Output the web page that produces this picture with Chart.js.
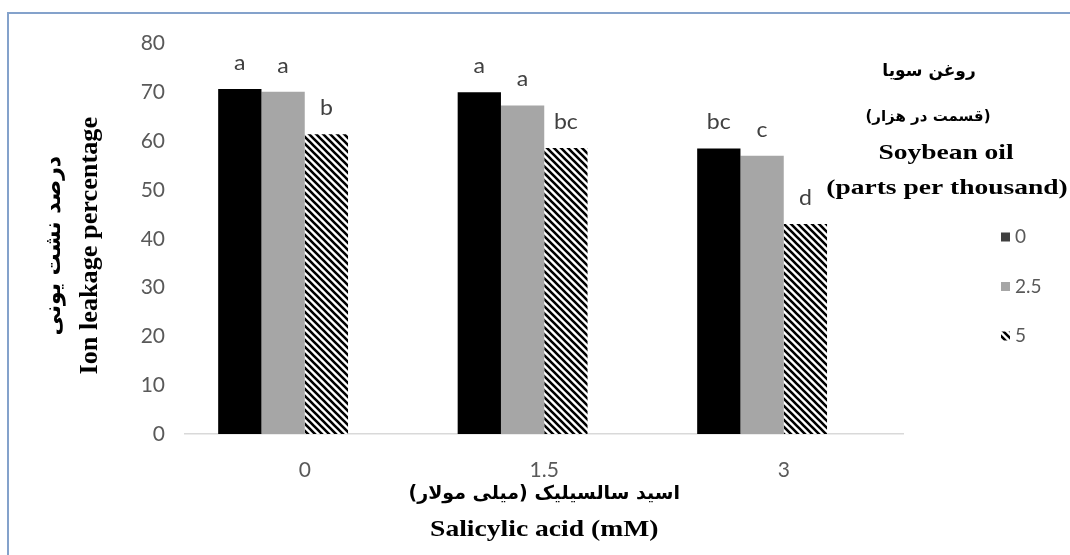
<!DOCTYPE html>
<html><head><meta charset="utf-8">
<script src="https://cdn.jsdelivr.net/npm/chart.js@4.4.1/dist/chart.umd.min.js"></script>
<style>
html,body{margin:0;padding:0;background:#fff;overflow:hidden;}
#wrap{position:absolute;left:0;top:0;width:1070px;height:555px;}
#frame{position:absolute;left:7px;top:12px;width:1080px;height:560px;border-left:2px solid #84a2cb;border-top:2px solid #84a2cb;pointer-events:none;}
canvas{position:absolute;left:0;top:0;}
</style></head><body>
<div id="wrap"><canvas id="c" width="1070" height="555"></canvas><div id="frame"></div></div>
<script>
// ---- data ----
const categories = ['0', '1.5', '3'];
const seriesNames = ['0', '2.5', '5'];
const oil0 = [70.7, 70.0, 58.5];
const oil25 = [70.1, 67.3, 57.0];
const oil5 = [61.4, 58.6, 43.0];
const emptySeries = [null, null, null];
const letters0 = ['a', 'a', 'bc'];
const letters25 = ['a', 'a', 'c'];
const letters5 = ['b', 'bc', 'd'];
const yMin = 0, yMax = 80, yStep = 10;
const legendTitleLines = ['روغن سویا', '(قسمت در هزار)', 'Soybean oil', '(parts per thousand)'];
const xTitleLines = ['اسید سالسیلیک (میلی مولار)', 'Salicylic acid (mM)'];
const yTitleLines = ['درصد نشت یونی', 'Ion leakage percentage'];

function makeHatch() {
  const s = 7;
  const c = document.createElement('canvas');
  c.width = s; c.height = s;
  const x = c.getContext('2d');
  x.fillStyle = '#ffffff'; x.fillRect(0, 0, s, s);
  x.strokeStyle = '#000000'; x.lineWidth = 2.6;
  x.beginPath();
  for (const k of [-s, 0, s]) { x.moveTo(k - 1, -1); x.lineTo(k + s + 1, s + 1); }
  x.stroke();
  return x.createPattern(c, 'repeat');
}
const ctx0 = document.getElementById('c').getContext('2d');
const hatch = makeHatch();
const colors = ['#000000', '#a6a6a6', hatch];
const letterSets = [letters0, letters25, letters5];

function drawText(ctx, text, x, y, font, color, sx, rot, dir) {
  ctx.save();
  ctx.translate(x, y);
  if (rot) ctx.rotate(rot);
  ctx.scale(sx || 1, 1);
  ctx.direction = dir || 'ltr';
  ctx.font = font; ctx.fillStyle = color;
  ctx.textAlign = 'center'; ctx.textBaseline = 'middle';
  ctx.fillText(text, 0, 0);
  ctx.restore();
}

const lettersPlugin = {
  id: 'letters',
  afterDatasetsDraw(chart) {
    const ctx = chart.ctx;
    letterSets.forEach((arr, i) => {
      chart.getDatasetMeta(i).data.forEach((bar, j) => {
        drawText(ctx, arr[j], bar.x, bar.y - 26, '21px Lato', '#404040', 1.1);
      });
    });
  }
};

const decorPlugin = {
  id: 'decor',
  afterDraw(chart) {
    const ctx = chart.ctx;
    const a = chart.chartArea;
    const cx = (a.left + a.right) / 2;
    // x title
    drawText(ctx, xTitleLines[0], cx, a.bottom + 60, 'bold 19px "DejaVu Sans"', '#000', 1.0, 0, 'rtl');
    drawText(ctx, xTitleLines[1], cx, a.bottom + 96, 'bold 23px "Liberation Serif"', '#000', 1.2);
    // y title
    const cy = (a.top + a.bottom) / 2 + 7;
    drawText(ctx, yTitleLines[0], 54, cy, 'bold 22px "DejaVu Sans"', '#000', 1.0, -Math.PI / 2, 'rtl');
    drawText(ctx, yTitleLines[1], 91, cy, 'bold 25px "Liberation Serif"', '#000', 1.05, -Math.PI / 2);
    // legend title
    drawText(ctx, legendTitleLines[0], 929, 72, 'bold 17px "DejaVu Sans"', '#000', 1.0, 0, 'rtl');
    drawText(ctx, legendTitleLines[1], 928, 117, 'bold 15px "DejaVu Sans"', '#000', 1.0, 0, 'rtl');
    drawText(ctx, legendTitleLines[2], 946, 153, 'bold 22px "Liberation Serif"', '#000', 1.25);
    drawText(ctx, legendTitleLines[3], 947, 188, 'bold 22px "Liberation Serif"', '#000', 1.25);
    // legend items
    seriesNames.forEach((name, i) => {
      const y = 237 + i * 49.5;
      ctx.save();
      ctx.fillStyle = i === 0 ? '#404040' : colors[i];
      ctx.fillRect(1001, y - 4.5, 9, 9);
      ctx.restore();
      ctx.save();
      ctx.font = '19px Lato'; ctx.fillStyle = '#595959';
      ctx.textAlign = 'left'; ctx.textBaseline = 'middle';
      ctx.fillText(name, 1015, y);
      ctx.restore();
    });
  }
};

const datasets = [oil0, oil25, oil5].map((d, i) => ({
  label: seriesNames[i], data: d, backgroundColor: colors[i], borderWidth: 0
}));
datasets.push({ label: '', data: emptySeries, backgroundColor: 'rgba(0,0,0,0)', borderWidth: 0 });

new Chart(ctx0, {
  type: 'bar',
  data: { labels: categories, datasets },
  options: {
    responsive: false, animation: false, devicePixelRatio: 1,
    layout: { padding: { top: 43.5, right: 166.5, bottom: 0, left: 0 } },
    datasets: { bar: { categoryPercentage: 0.723, barPercentage: 1.0 } },
    plugins: { legend: { display: false }, tooltip: { enabled: false } },
    scales: {
      x: {
        grid: { display: false, drawTicks: false },
        border: { display: true, color: '#d9d9d9', width: 1.5 },
        ticks: { padding: 24, color: '#595959', font: { family: 'Lato', size: 21 } },
        afterFit(s) { s.height = 121; }
      },
      y: {
        min: yMin, max: yMax,
        grid: { display: false, drawTicks: false },
        border: { display: false },
        ticks: { stepSize: yStep, padding: 20, color: '#595959', font: { family: 'Lato', size: 21 } },
        afterFit(s) { s.width = 185; }
      }
    }
  },
  plugins: [lettersPlugin, decorPlugin]
});
</script>
</body></html>
